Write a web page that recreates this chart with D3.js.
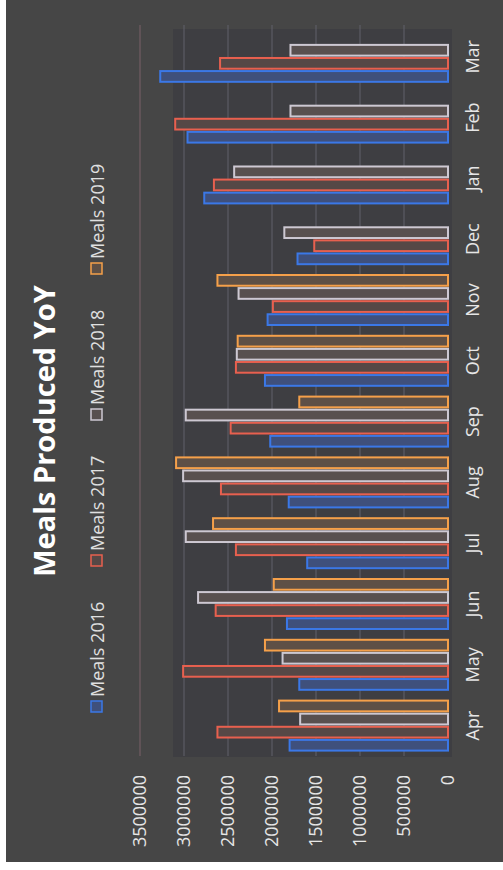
<!DOCTYPE html>
<html>
<head>
<meta charset="utf-8">
<script src="https://cdn.jsdelivr.net/npm/d3@7"></script>
<style>
  html, body { margin: 0; padding: 0; background: #ffffff; }
  #chart { width: 503px; height: 870px; }
</style>
</head>
<body>
<div id="chart"></div>
<script>
const months = ["Apr", "May", "Jun", "Jul", "Aug", "Sep", "Oct", "Nov", "Dec", "Jan", "Feb", "Mar"];
const seriesNames = ["Meals 2016", "Meals 2017", "Meals 2018", "Meals 2019"];
const meals2016 = [1800000, 1690000, 1830000, 1600000, 1810000, 2020000, 2080000, 2050000, 1710000, 2770000, 2960000, 3270000];
const meals2017 = [2620000, 3010000, 2640000, 2410000, 2580000, 2470000, 2410000, 1990000, 1520000, 2660000, 3100000, 2590000];
const meals2018 = [1680000, 1880000, 2840000, 2980000, 3010000, 2980000, 2400000, 2380000, 1860000, 2430000, 1790000, 1790000];
const meals2019 = [1920000, 2080000, 1980000, 2670000, 3090000, 1690000, 2390000, 2620000, null, null, null, null];
const yTicks = [0, 500000, 1000000, 1500000, 2000000, 2500000, 3000000, 3500000];

const W = 503, H = 870;
const fontFamily = "'Open Sans', 'DejaVu Sans', sans-serif";

const seriesValues = [meals2016, meals2017, meals2018, meals2019];
const seriesStroke = ["#3b78e7", "#e8604f", "#cdc8d2", "#f5a04a"];
const seriesFill = ["#3f507c", "#564846", "#58504f", "#5e5046"];

const svg = d3.select("#chart")
    .append("svg")
    .attr("width", W)
    .attr("height", H);

// the picture is the chart turned a quarter turn to the left
const g = svg.append("g")
    .attr("transform", `translate(0, ${H}) rotate(-90)`);

// u = along the month axis (image bottom -> top), v = across (image left -> right)
g.append("rect")
    .attr("x", 8)
    .attr("y", 6)
    .attr("width", H - 8)
    .attr("height", W - 6)
    .attr("fill", "#464646");

g.append("rect")
    .attr("x", 113)
    .attr("y", 173)
    .attr("width", 728)
    .attr("height", 279)
    .attr("fill", "#3e3e42");

const x0 = d3.scaleBand()
    .domain(months)
    .range([114, 843.6])
    .paddingInner(0.1)
    .paddingOuter(0.05);

const x1 = d3.scaleBand()
    .domain(seriesNames)
    .range([0, x0.bandwidth()])
    .padding(0.18);

const y = d3.scaleLinear()
    .domain([0, 3500000])
    .range([448, 140]);

// gridlines
g.append("g")
    .selectAll("line")
    .data(yTicks.filter(d => d > 0))
    .join("line")
    .attr("x1", 114)
    .attr("x2", 845)
    .attr("y1", d => y(d))
    .attr("y2", d => y(d))
    .attr("stroke", d => d === 3500000 ? "#7a6068" : "#60606a")
    .attr("stroke-width", 1);

// value labels
g.append("g")
    .selectAll("text")
    .data(yTicks)
    .join("text")
    .attr("x", 95)
    .attr("y", d => y(d))
    .attr("dy", "0.35em")
    .attr("text-anchor", "end")
    .style("font-family", fontFamily)
    .style("font-size", "18px")
    .style("fill", "#e6e6e6")
    .text(d => d3.format("d")(d));

// bars
const rows = months.map((m, i) => ({
    month: m,
    values: seriesNames.map((s, j) => ({ series: s, idx: j, value: seriesValues[j][i] }))
}));

g.append("g")
    .selectAll("g")
    .data(rows)
    .join("g")
    .attr("transform", d => `translate(${x0(d.month)}, 0)`)
    .selectAll("rect")
    .data(d => d.values.filter(v => v.value != null))
    .join("rect")
    .attr("x", d => x1(d.series))
    .attr("y", d => y(d.value))
    .attr("width", x1.bandwidth())
    .attr("height", d => y(0) - y(d.value))
    .attr("fill", d => seriesFill[d.idx])
    .attr("stroke", d => seriesStroke[d.idx])
    .attr("stroke-width", 2);

// month labels
g.append("g")
    .selectAll("text")
    .data(months)
    .join("text")
    .attr("x", d => x0(d) + x0.bandwidth() / 2)
    .attr("y", 479)
    .attr("text-anchor", "middle")
    .style("font-family", fontFamily)
    .style("font-size", "18px")
    .style("fill", "#e6e6e6")
    .text(d => d);

// title
g.append("text")
    .attr("x", 439)
    .attr("y", 55)
    .attr("text-anchor", "middle")
    .style("font-family", fontFamily)
    .style("font-size", "29px")
    .style("font-weight", "bold")
    .style("fill", "#ffffff")
    .text("Meals Produced YoY");

// legend
const legend = g.append("g")
    .selectAll("g")
    .data(seriesNames)
    .join("g")
    .attr("transform", (d, i) => `translate(${158 + i * 146}, 91)`);

legend.append("rect")
    .attr("width", 11)
    .attr("height", 11)
    .attr("fill", (d, i) => seriesFill[i])
    .attr("stroke", (d, i) => seriesStroke[i])
    .attr("stroke-width", 1.5);

legend.append("text")
    .attr("x", 15)
    .attr("y", 13)
    .style("font-family", fontFamily)
    .style("font-size", "18px")
    .style("fill", "#e0e0e0")
    .text(d => d);
</script>
</body>
</html>
